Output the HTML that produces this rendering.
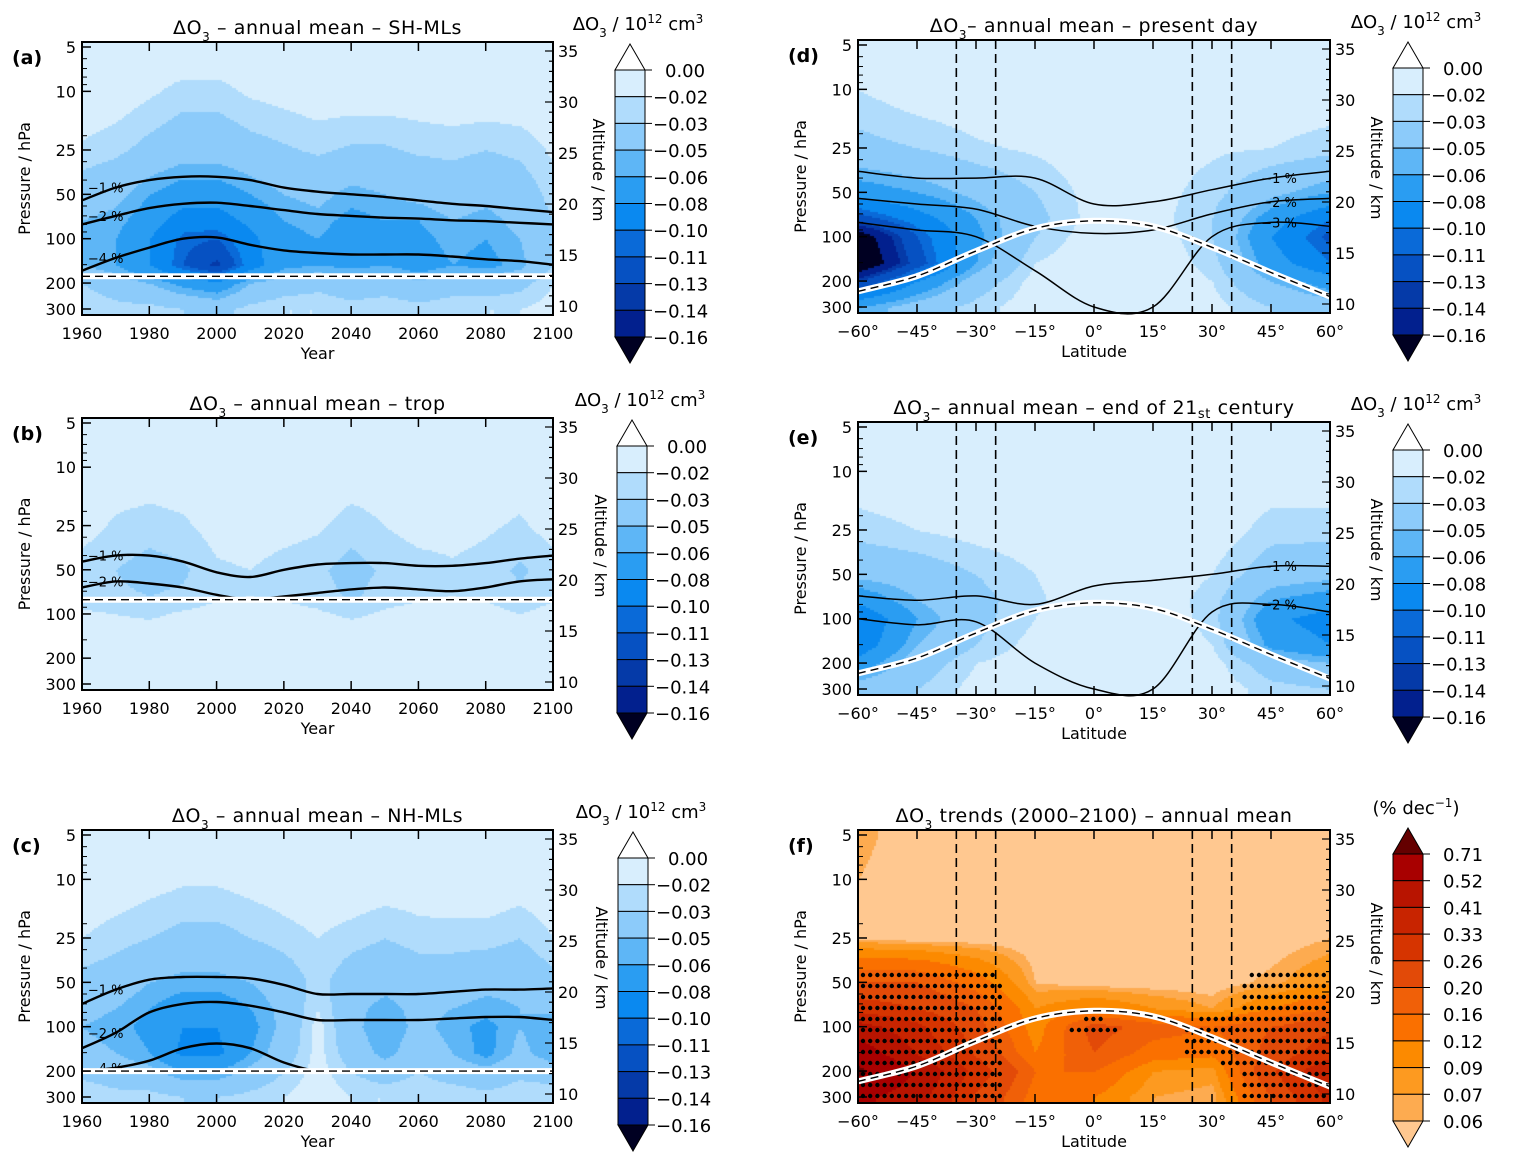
<!DOCTYPE html>
<html><head><meta charset="utf-8">
<style>
body{margin:0;background:#fff;width:1533px;height:1166px;position:relative;overflow:hidden;font-family:"DejaVu Sans","Liberation Sans",sans-serif}
canvas{position:absolute}
svg{position:absolute;left:0;top:0}
svg text{font-family:"DejaVu Sans","Liberation Sans",sans-serif;fill:#000}
</style></head>
<body>
<div id="root"></div>
<svg id="s" width="1533" height="1166"></svg>
<script>
// ---- data ----
const pressures=[5,10,25,50,75,100,150,200,300];
const years=[1960,1970,1980,1990,2000,2010,2020,2030,2040,2050,2060,2070,2080,2090,2100];
const lats=[-60,-45,-30,-15,0,15,30,45,60];
const blueLevels=[-0.02,-0.03,-0.05,-0.06,-0.08,-0.10,-0.11,-0.13,-0.14,-0.16];
const blueLabels=["0.00","−0.02","−0.03","−0.05","−0.06","−0.08","−0.10","−0.11","−0.13","−0.14","−0.16"];
const orangeLevels=[0.06,0.07,0.09,0.12,0.16,0.20,0.26,0.33,0.41,0.52,0.71];
const orangeLabels=["0.71","0.52","0.41","0.33","0.26","0.20","0.16","0.12","0.09","0.07","0.06"];
const fieldA=[
[-.01,-.01,-.01,-.01,-.01,-.01,-.01,-.01,-.01,-.01,-.01,-.01,-.01,-.01,-.01],
[-.01,-.012,-.018,-.024,-.024,-.018,-.015,-.012,-.012,-.012,-.012,-.01,-.01,-.01,-.01],
[-.022,-.027,-.035,-.042,-.042,-.036,-.032,-.028,-.032,-.032,-.028,-.027,-.03,-.027,-.018],
[-.04,-.045,-.06,-.07,-.07,-.06,-.05,-.045,-.055,-.05,-.045,-.04,-.045,-.04,-.025],
[-.05,-.055,-.07,-.09,-.09,-.075,-.06,-.055,-.065,-.06,-.06,-.05,-.055,-.045,-.03],
[-.055,-.06,-.08,-.105,-.11,-.085,-.065,-.06,-.07,-.065,-.065,-.055,-.06,-.05,-.03],
[-.05,-.06,-.08,-.11,-.135,-.09,-.065,-.06,-.065,-.06,-.07,-.06,-.065,-.055,-.03],
[-.03,-.04,-.05,-.065,-.075,-.05,-.04,-.035,-.04,-.04,-.045,-.04,-.04,-.035,-.02],
[-.02,-.025,-.025,-.03,-.035,-.025,-.02,-.02,-.025,-.02,-.025,-.02,-.02,-.02,-.015]];
const fieldB=[
[-.01,-.01,-.01,-.01,-.01,-.01,-.01,-.01,-.01,-.01,-.01,-.01,-.01,-.01,-.01],
[-.01,-.012,-.012,-.012,-.01,-.01,-.01,-.01,-.012,-.012,-.01,-.01,-.01,-.012,-.01],
[-.015,-.022,-.025,-.022,-.015,-.013,-.015,-.018,-.025,-.02,-.015,-.015,-.018,-.022,-.015],
[-.025,-.03,-.035,-.032,-.022,-.02,-.025,-.028,-.035,-.028,-.025,-.022,-.025,-.032,-.025],
[-.025,-.028,-.03,-.028,-.022,-.02,-.022,-.025,-.032,-.025,-.022,-.02,-.022,-.028,-.022],
[-.018,-.02,-.022,-.018,-.015,-.015,-.015,-.018,-.022,-.018,-.015,-.015,-.015,-.02,-.015],
[-.012,-.012,-.012,-.012,-.012,-.012,-.012,-.012,-.012,-.012,-.012,-.012,-.012,-.012,-.012],
[-.01,-.01,-.01,-.01,-.01,-.01,-.01,-.01,-.01,-.01,-.01,-.01,-.01,-.01,-.01],
[-.01,-.01,-.01,-.01,-.01,-.01,-.01,-.01,-.01,-.01,-.01,-.01,-.01,-.01,-.01]];
const fieldC=[
[-.01,-.01,-.01,-.01,-.01,-.01,-.01,-.01,-.01,-.01,-.01,-.01,-.01,-.01,-.01],
[-.01,-.012,-.015,-.018,-.018,-.015,-.012,-.01,-.01,-.012,-.012,-.01,-.01,-.012,-.01],
[-.02,-.025,-.03,-.035,-.035,-.03,-.025,-.02,-.025,-.03,-.025,-.025,-.025,-.03,-.02],
[-.035,-.04,-.05,-.055,-.055,-.05,-.04,-.025,-.04,-.045,-.04,-.04,-.045,-.045,-.035],
[-.045,-.05,-.06,-.07,-.07,-.06,-.045,-.02,-.045,-.055,-.045,-.05,-.055,-.05,-.045],
[-.05,-.055,-.065,-.08,-.08,-.065,-.045,-.015,-.045,-.06,-.045,-.055,-.065,-.05,-.06],
[-.045,-.05,-.06,-.085,-.085,-.06,-.04,-.015,-.04,-.055,-.04,-.05,-.065,-.045,-.06],
[-.035,-.04,-.045,-.06,-.06,-.045,-.03,-.015,-.03,-.04,-.03,-.04,-.045,-.035,-.04],
[-.02,-.025,-.025,-.03,-.03,-.025,-.02,-.01,-.02,-.02,-.02,-.02,-.025,-.02,-.02]];
const fieldD=[
[-.012,-.01,-.01,-.01,-.01,-.01,-.01,-.01,-.01],
[-.02,-.012,-.01,-.01,-.012,-.018,-.012,-.012,-.012],
[-.035,-.03,-.022,-.018,-.012,-.015,-.018,-.02,-.025],
[-.07,-.06,-.045,-.03,-.015,-.015,-.025,-.045,-.06],
[-.12,-.09,-.06,-.035,-.015,-.015,-.03,-.07,-.1],
[-.18,-.11,-.065,-.03,-.012,-.012,-.03,-.08,-.115],
[-.19,-.12,-.06,-.02,-.01,-.01,-.025,-.07,-.1],
[-.13,-.08,-.04,-.015,-.01,-.01,-.02,-.05,-.07],
[-.06,-.04,-.025,-.012,-.01,-.01,-.015,-.03,-.04]];
const fieldE=[
[-.01,-.01,-.01,-.01,-.01,-.01,-.01,-.01,-.01],
[-.012,-.01,-.01,-.01,-.01,-.01,-.01,-.012,-.012],
[-.025,-.02,-.015,-.012,-.01,-.01,-.012,-.025,-.025],
[-.045,-.04,-.03,-.02,-.012,-.012,-.02,-.04,-.045],
[-.075,-.05,-.035,-.022,-.012,-.012,-.025,-.06,-.07],
[-.1,-.06,-.035,-.02,-.01,-.01,-.025,-.075,-.09],
[-.095,-.05,-.03,-.015,-.01,-.01,-.02,-.065,-.08],
[-.07,-.04,-.02,-.012,-.01,-.01,-.015,-.04,-.05],
[-.04,-.03,-.015,-.01,-.01,-.01,-.012,-.025,-.03]];
const fieldF=[
[.065,.05,.05,.05,.05,.05,.05,.05,.05],
[.06,.05,.05,.05,.05,.05,.05,.05,.05],
[.058,.05,.05,.05,.05,.05,.05,.05,.06],
[.2,.2,.14,.06,.05,.05,.05,.065,.09],
[.3,.26,.2,.09,.12,.09,.07,.12,.16],
[.45,.35,.22,.1,.22,.18,.16,.2,.25],
[.6,.4,.25,.12,.2,.14,.13,.22,.3],
[.75,.5,.3,.16,.16,.09,.08,.25,.4],
[.55,.45,.25,.14,.12,.07,.06,.2,.35]];
const sigF=[
[0,0,0,0,0,0,0,0,0],
[0,0,0,0,0,0,0,0,0],
[0,0,0,0,0,0,0,0,0],
[1,1,1,0,0,0,0,1,1],
[1,1,1,0,0,0,0,1,1],
[1,1,1,0,1,0,1,1,1],
[1,1,1,0,0,0,1,1,1],
[1,1,1,0,0,0,0,1,1],
[1,1,1,0,0,0,0,1,1]];
// contour lines (pressure per column)
const linesA=[{lab:"−1 %",p:[55,45,40,38,38,40,45,48,50,52,55,58,60,63,66]},{lab:"−2 %",p:[80,70,62,58,57,60,64,68,70,72,73,75,76,78,80]},{lab:"−4 %",p:[165,135,115,100,98,110,120,125,128,128,128,132,138,142,150]}];
const linesB=[{lab:"−1 %",p:[44,40,40,44,52,56,50,46,45,45,47,47,45,42,40]},{lab:"−2 %",p:[66,60,62,66,74,80,76,72,68,66,68,70,66,60,58]}];
const linesC=[{lab:"−1 %",p:[70,56,48,46,46,47,52,60,60,60,60,58,56,56,55]},{lab:"−2 %",p:[140,110,80,70,68,72,80,90,90,90,90,88,86,86,90]},{lab:"−4 %",p:[200,190,170,140,130,140,175,200,200,200,200,200,200,200,200]}];
const linesD=[{lab:"−1 %",p:[36,40,40,40,60,58,48,40,36]},{lab:"−2 %",p:[55,60,65,85,95,90,70,58,55]},{lab:"−3 %",p:[80,90,100,170,300,300,100,80,85]}];
const linesE=[{lab:"−1 %",p:[70,75,70,80,60,55,50,44,44]},{lab:"−2 %",p:[100,110,105,200,300,300,90,80,90]}];
const tropoYear=[180,80,200];
const tropoLat=[235,185,125,88,78,85,118,175,255];
const ylabFig="Pressure / hPa";
// ---- helpers ----
const S=document.getElementById('s');
const NS="http://www.w3.org/2000/svg";
function el(tag,attrs,txt){const e=document.createElementNS(NS,tag);for(const k in attrs)e.setAttribute(k,attrs[k]);if(txt!==undefined)e.textContent=txt;S.appendChild(e);return e;}
const blueCols=["#d8eefd","#b0dcfc","#8ccbfa","#5eb6f6","#2a9df2","#0a89f0","#0a6ad8","#0651c2","#053aa8","#02208e"];
const blueTri=["#ffffff","#000022"];
const orCols=["#fdab50","#fd9a20","#fc8a00","#fa7000","#f06008","#e24a08","#d63400","#c82400","#b81400","#a80000"];
const orTri=["#ffc890","#640000"];
function blueColor(v){if(v>-0.02)return blueCols[0];for(let i=1;i<blueLevels.length;i++)if(v>blueLevels[i])return blueCols[i];return blueTri[1];}
function orColor(v){if(v<orangeLevels[0])return orTri[0];for(let i=1;i<orangeLevels.length;i++)if(v<orangeLevels[i])return orCols[i-1];return orTri[1];}
function spline(pts){let d='M'+pts[0][0].toFixed(1)+','+pts[0][1].toFixed(1);
  for(let i=0;i<pts.length-1;i++){const p0=pts[Math.max(0,i-1)],p1=pts[i],p2=pts[i+1],p3=pts[Math.min(pts.length-1,i+2)];
    const c1=[p1[0]+(p2[0]-p0[0])/6,p1[1]+(p2[1]-p0[1])/6],c2=[p2[0]-(p3[0]-p1[0])/6,p2[1]-(p3[1]-p1[1])/6];
    d+='C'+c1.map(v=>v.toFixed(1)).join(',')+' '+c2.map(v=>v.toFixed(1)).join(',')+' '+p2.map(v=>v.toFixed(1)).join(',');}
  return d;}
function mkPanel(cfg){
  const {x0,y0,w,h}=cfg;
  const X=cfg.kind==="year"?(v=>x0+(v-1960)/140*w):(v=>x0+(v+60)/120*w);
  const xs=cfg.kind==="year"?years:lats;
  const Y=p=>y0+5+Math.log(p/5)/Math.log(60)*(h-11);
  const invY=y=>5*Math.exp((y-y0-5)/(h-11)*Math.log(60));
  const cv=document.createElement('canvas');cv.width=w;cv.height=h;cv.style.left=x0+'px';cv.style.top=y0+'px';
  
  
  document.getElementById('root').appendChild(cv);
  const ctx=cv.getContext('2d');
  const lp=pressures.map(p=>Math.log(p));
  function sample(grid,px,py){
    const xv=xs[0]+(px+0.5)/w*(xs[xs.length-1]-xs[0]);
    let c=(xv-xs[0])/(xs[1]-xs[0]);c=Math.max(0,Math.min(xs.length-1.0001,c));
    const l=Math.log(Math.max(5,Math.min(300,invY(y0+py+0.5))));
    let r=0;while(r<lp.length-2&&l>lp[r+1])r++;
    let fr=(l-lp[r])/(lp[r+1]-lp[r]);fr=Math.max(0,Math.min(1,fr));
    const ci=Math.floor(c),fc=c-ci;
    const a=grid[r][ci],b=grid[r][ci+1],d=grid[r+1][ci],e=grid[r+1][ci+1];
    return (a*(1-fc)+b*fc)*(1-fr)+(d*(1-fc)+e*fc)*fr;
  }
  for(let py=0;py<h;py+=2)for(let px=0;px<w;px+=2){
    const v=sample(cfg.grid,px,py);
    ctx.fillStyle=cfg.orange?orColor(v):blueColor(v);ctx.fillRect(px,py,2,2);
  }
  if(cfg.sig){
    for(let yy=y0+13;yy<y0+h-4;yy+=11)for(let xx=x0+5;xx<x0+w-2;xx+=7.2){
      if(invY(yy)<40)continue;
      if(sample(cfg.sig,xx-x0,yy-y0)>0.5){
        const c=el('circle',{cx:xx.toFixed(1),cy:yy.toFixed(1),r:2.2,fill:'#000'});
        
        
      }
    }
  }
  (cfg.lines||[]).forEach((ln,i)=>{
    const pts=ln.p.map((p,j)=>[X(xs[j]),Y(Math.min(p,300))]);
    const pth=el('path',{d:spline(pts),fill:'none',stroke:'#000','stroke-width':cfg.kind==="year"?2.4:1.5});
    
    
    const j=cfg.kind==="year"?1:7;
    const t=el('text',{x:X(xs[j])-(cfg.kind==="year"?10:-8),y:Y(ln.p[j])+5,'font-size':13,'text-anchor':'middle'},ln.lab);
    
    
  });
  if(cfg.kind==="lat"){[-35,-25,25,35].forEach(v=>{
    const l=el('line',{x1:X(v),x2:X(v),y1:y0,y2:y0+h,stroke:'#000','stroke-width':1.6,'stroke-dasharray':'9,5'});
    
    
  });}
  let td;
  if(cfg.kind==="year"){td='M'+x0+','+Y(cfg.tropo).toFixed(1)+'L'+(x0+w)+','+Y(cfg.tropo).toFixed(1);}
  else{td=spline(tropoLat.map((p,j)=>[X(lats[j]),Y(p)]));}
  const tw=el('path',{d:td,fill:'none',stroke:'#fff','stroke-width':6});
  
  
  const tb=el('path',{d:td,fill:'none',stroke:'#000','stroke-width':1.4,'stroke-dasharray':'8,5'});
  
  
  const fr=el('rect',{x:x0,y:y0,width:w,height:h,fill:'none',stroke:'#000','stroke-width':2});
  
  
  [5,10,25,50,100,200,300].forEach(p=>{
    const t=el('text',{x:x0-6,y:Y(p)+6,'font-size':16,'text-anchor':'end'},String(p));
    
    
    el('line',{x1:x0,x2:x0+9,y1:Y(p),y2:Y(p),stroke:'#000','stroke-width':1.5});
  });
  [6,7,8,9,20,30,40,60,70,80,90,150].forEach(p=>el('line',{x1:x0,x2:x0+5,y1:Y(p),y2:Y(p),stroke:'#000','stroke-width':1}));
  for(let a=10;a<=35;a++){
    const yy=y0+9+(35-a)*10.2;
    el('line',{x1:x0+w,x2:x0+w-(a%5?4:8),y1:yy,y2:yy,stroke:'#000','stroke-width':1.2});
    if(a%5===0){const t=el('text',{x:x0+w+5,y:yy+6,'font-size':16},String(a));
      
      }
  }
  const xt=cfg.kind==="year"?[1960,1980,2000,2020,2040,2060,2080,2100]:[-60,-45,-30,-15,0,15,30,45,60];
  xt.forEach(v=>{
    const lab=cfg.kind==="year"?String(v):((v<0?'−':'')+Math.abs(v)+'°');
    const t=el('text',{x:X(v),y:y0+h+24,'font-size':16,'text-anchor':'middle'},lab);
    
    
    el('line',{x1:X(v),x2:X(v),y1:y0+h,y2:y0+h-9,stroke:'#000','stroke-width':1.5});
    el('line',{x1:X(v),x2:X(v),y1:y0,y2:y0+9,stroke:'#000','stroke-width':1.5});
  });
  const xl=el('text',{x:x0+w/2,y:y0+h+44,'font-size':16,'text-anchor':'middle'},cfg.kind==="year"?"Year":"Latitude");
  
  
  const yl=el('text',{x:0,y:0,'font-size':16,'text-anchor':'middle',transform:`translate(${x0-52},${y0+h/2}) rotate(-90)`},ylabFig);
  
  
  const pl=el('text',{x:x0-70,y:y0+22,'font-size':19,'font-weight':'bold'},cfg.letter);
  
  
  const ti=el('text',{x:x0+w/2,y:y0-8,'font-size':19,'text-anchor':'middle','letter-spacing':'0.6'});
  
  
  ti.innerHTML=cfg.title;
  const cx=cfg.cbx,ct=cfg.cby,bh=26.7,cw=30;
  const cols=cfg.orange?orCols.slice().reverse():blueCols;
  const tris=cfg.orange?[orTri[1],orTri[0]]:blueTri;
  const tt=el('path',{d:`M${cx},${ct}L${cx+cw/2},${ct-26}L${cx+cw},${ct}Z`,fill:tris[0],stroke:'#000','stroke-width':1});
  
  
  cols.forEach((c,i)=>{const r=el('rect',{x:cx,y:ct+i*bh,width:cw,height:bh,fill:c,stroke:'#000','stroke-width':1});
    
    });
  const bt=el('path',{d:`M${cx},${ct+10*bh}L${cx+cw/2},${ct+10*bh+26}L${cx+cw},${ct+10*bh}Z`,fill:tris[1],stroke:'#000','stroke-width':1});
  
  
  const labs=cfg.orange?orangeLabels:blueLabels;
  labs.forEach((l,i)=>{
    el('line',{x1:cx+cw,x2:cx+cw+7,y1:ct+i*bh,y2:ct+i*bh,stroke:'#000','stroke-width':1});
    const t=el('text',{x:cx+cw+(l[0]==='−'?8:20),y:ct+i*bh+7,'font-size':18},l);
    
    
  });
  const ct2=el('text',{x:cx+cw/2+8,y:ct-40,'font-size':18,'text-anchor':'middle'});
  
  
  ct2.innerHTML=cfg.orange?'(% dec<tspan dy="-7" font-size="12">−1</tspan><tspan dy="7">)</tspan>':'ΔO<tspan dy="7" font-size="12">3</tspan><tspan dy="-7"> /  10</tspan><tspan dy="-7" font-size="12">12</tspan><tspan dy="7"> cm</tspan><tspan dy="-7" font-size="12">3</tspan>';
  const al=el('text',{x:0,y:0,'font-size':16,'text-anchor':'middle',transform:`translate(${cx-22},${ct+100}) rotate(90)`},"Altitude / km");
  
  
}
const D='ΔO<tspan dy="7" font-size="12">3</tspan><tspan dy="-7">';
mkPanel({name:'panel-a',letter:'(a)',x0:82,y0:42,w:471,h:273,kind:'year',grid:fieldA,lines:linesA,tropo:tropoYear[0],title:D+' –  annual mean – SH-MLs</tspan>',cbx:615,cby:70});
mkPanel({name:'panel-b',letter:'(b)',x0:82,y0:418,w:471,h:272,kind:'year',grid:fieldB,lines:linesB,tropo:tropoYear[1],title:D+' –  annual mean – trop</tspan>',cbx:617,cby:446});
mkPanel({name:'panel-c',letter:'(c)',x0:82,y0:830,w:471,h:273,kind:'year',grid:fieldC,lines:linesC,tropo:tropoYear[2],title:D+' –  annual mean – NH-MLs</tspan>',cbx:618,cby:858});
mkPanel({name:'panel-d',letter:'(d)',x0:858,y0:40,w:472,h:273,kind:'lat',grid:fieldD,lines:linesD,title:D+'– annual mean – present day</tspan>',cbx:1393,cby:68});
mkPanel({name:'panel-e',letter:'(e)',x0:858,y0:422,w:472,h:273,kind:'lat',grid:fieldE,lines:linesE,title:D+'– annual mean – end of 21<tspan font-size="13" dy="4">st</tspan><tspan dy="-4"> century</tspan></tspan>',cbx:1393,cby:450});
mkPanel({name:'panel-f',letter:'(f)',x0:858,y0:830,w:472,h:273,kind:'lat',grid:fieldF,sig:sigF,orange:true,title:D+' trends (2000–2100) – annual mean</tspan>',cbx:1393,cby:854});
</script>
</body></html>
